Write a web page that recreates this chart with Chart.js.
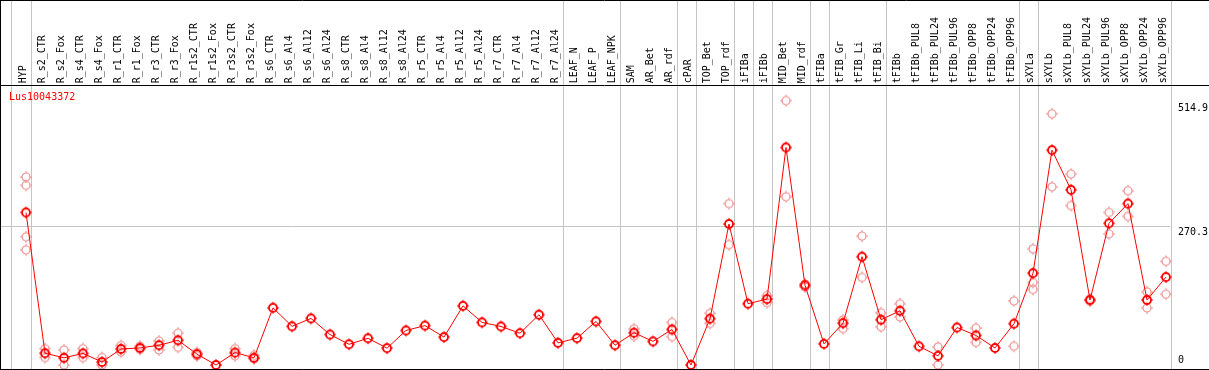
<!DOCTYPE html>
<html>
<head>
<meta charset="utf-8">
<script src="https://cdn.jsdelivr.net/npm/chart.js@4.4.1/dist/chart.umd.min.js"></script>
<style>
  body { margin: 0; background: #fff; }
  #wrap { width: 1209px; height: 370px; position: relative; }
</style>
</head>
<body>
<div id="wrap"><canvas id="grafico"></canvas></div>
<script>
// rótulos das amostras
const amostras = ["HYP","R_s2_CTR","R_s2_Fox","R_s4_CTR","R_s4_Fox","R_r1_CTR","R_r1_Fox","R_r3_CTR","R_r3_Fox",
  "R_r1s2_CTR","R_r1s2_Fox","R_r3s2_CTR","R_r3s2_Fox","R_s6_CTR","R_s6_Al4","R_s6_Al12","R_s6_Al24",
  "R_s8_CTR","R_s8_Al4","R_s8_Al12","R_s8_Al24","R_r5_CTR","R_r5_Al4","R_r5_Al12","R_r5_Al24",
  "R_r7_CTR","R_r7_Al4","R_r7_Al12","R_r7_Al24","LEAF_N","LEAF_P","LEAF_NPK","SAM","AR_Bet","AR_rdf",
  "cPAR","TOP_Bet","TOP_rdf","iFIBa","iFIBb","MID_Bet","MID_rdf","tFIBa","tFIB_Gr","tFIB_Li","tFIB_Bi",
  "tFIBb","tFIBb_PUL8","tFIBb_PUL24","tFIBb_PUL96","tFIBb_OPP8","tFIBb_OPP24","tFIBb_OPP96","sXYLa",
  "sXYLb","sXYLb_PUL8","sXYLb_PUL24","sXYLb_PUL96","sXYLb_OPP8","sXYLb_OPP24","sXYLb_OPP96"];

// tamanho de cada grupo (linhas cinzas verticais)
const grupos = [1, 28, 3, 3, 1, 2, 1, 1, 2, 1, 3, 7, 1, 7];

// média por amostra
const media = [297.1, 23.0, 14.0, 22.6, 5.8, 31.2, 33.2, 38.5, 48.1, 21.1, 0, 24.2, 14.0,
  111.4, 75.3, 90.7, 59.4, 40.3, 52.0, 32.8, 67.3, 76.7, 54.3, 115.2, 83.0, 75.0, 61.9, 98.0, 43.1,
  52.3, 84.9, 38.5, 62.9, 46.0, 69.2, 0, 90.3, 274.7, 119.4, 128.4, 423.7, 155.3, 41.2, 81.5, 210.9,
  88.2, 105.6, 36.4, 17.8, 73.0, 57.5, 33.2, 80.5, 178.9, 418.5, 341.2, 126.5, 276.0, 314.4, 126.7, 171.2];

// réplicas (null = sem réplica visível)
const rep1 = [366.1, 31.8, 29.3, 31.8, 14.6, 38.0, 37.0, 46.6, 61.9, 24.5, null, 31.8, 18.8,
  null, null, null, null, null, null, null, null, null, null, null, null, null, null, null, null,
  null, null, null, 70.5, null, 83.0, null, 100.8, 314.4, null, 135.3, 514.9, 157.8, null, 87.8, 251.1,
  101.6, 119.4, null, 35.1, null, 71.9, null, 124.8, 226.2, 489.4, 371.9, 129.0, 297.1, 339.3, 142.4, 201.9];
const rep2 = [350.0, 14.6, 0, 14.6, 0, 25.5, 30.3, 29.3, 34.5, 17.8, null, 17.8, 12.1,
  null, null, null, null, null, null, null, null, null, null, null, null, null, null, null, null,
  null, null, null, 56.2, null, 55.2, null, 81.1, 234.4, null, 121.3, 327.8, 152.0, null, 70.9, 170.6,
  74.4, 93.5, null, 0, null, 44.1, null, 36.6, 160.6, 347.0, 310.6, 124.2, 255.5, 289.5, 111.2, 138.0];
const rep3 = [249.8, null, null, null, null, null, null, null, null, null, null, null, null,
  null, null, null, null, null, null, null, null, null, null, null, null, null, null, null, null,
  null, null, null, null, null, null, null, null, null, null, null, null, null, null, null, null,
  null, null, null, null, null, null, null, null, 147.2, null, null, null, null, null, null, null];
const rep4 = [224.3, null, null, null, null, null, null, null, null, null, null, null, null,
  null, null, null, null, null, null, null, null, null, null, null, null, null, null, null, null,
  null, null, null, null, null, null, null, null, null, null, null, null, null, null, null, null,
  null, null, null, null, null, null, null, null, null, null, null, null, null, null, null, null];

const nomeGene = "Lus10043372";
const ticksY = [514.9, 270.3, 0];

// marcador: círculo com pequenos traços nas 4 direções
function marcador(cor, espessura) {
  const c = document.createElement("canvas");
  c.width = 14; c.height = 14;
  const g = c.getContext("2d");
  g.strokeStyle = cor;
  g.lineWidth = espessura;
  g.beginPath();
  g.arc(7, 7, 4, 0, Math.PI * 2);
  g.stroke();
  g.lineWidth = 1;
  g.beginPath();
  g.moveTo(7, 1); g.lineTo(7, 3);
  g.moveTo(7, 11); g.lineTo(7, 13);
  g.moveTo(1, 7); g.lineTo(3, 7);
  g.moveTo(11, 7); g.lineTo(13, 7);
  g.stroke();
  return c;
}
const pontoMedia = marcador("#ff0000", 1.8);
const pontoRep = marcador("#ee8f8f", 1.2);

const fonte = "'DejaVu Sans Mono', monospace";

const moldura = {
  id: "moldura",
  beforeDatasetsDraw(chart) {
    const ctx = chart.ctx, x = chart.scales.x, y = chart.scales.y;
    const passo = x.getPixelForValue(1) - x.getPixelForValue(0);
    ctx.save();
    ctx.strokeStyle = "#c4c4c4";
    ctx.lineWidth = 1;
    // linha horizontal em 270.3
    const yg = Math.round(y.getPixelForValue(ticksY[1])) + 0.5;
    ctx.beginPath();
    ctx.moveTo(0, yg); ctx.lineTo(1170, yg);
    // separadores dos grupos
    let xs = [x.getPixelForValue(0) - 0.8 * passo];
    let fim = -1;
    grupos.forEach(n => { fim += n; xs.push(x.getPixelForValue(fim) + 0.25 * passo); });
    xs.forEach(v => { const px = Math.round(v) + 0.5; ctx.moveTo(px, 0); ctx.lineTo(px, 369); });
    ctx.stroke();
    ctx.restore();
  },
  afterDraw(chart) {
    const ctx = chart.ctx, y = chart.scales.y;
    ctx.save();
    ctx.strokeStyle = "#000";
    ctx.lineWidth = 1;
    ctx.beginPath();
    ctx.moveTo(0, 0.5); ctx.lineTo(1209, 0.5);
    ctx.moveTo(0, 85.5); ctx.lineTo(1209, 85.5);
    ctx.moveTo(0, 369.5); ctx.lineTo(1209, 369.5);
    ctx.moveTo(0.5, 0); ctx.lineTo(0.5, 370);
    ctx.stroke();
    ctx.font = "10px " + fonte;
    ctx.textBaseline = "middle";
    ctx.fillStyle = "#ff0000";
    ctx.fillText(nomeGene, 9, 97.5);
    ctx.fillStyle = "#000";
    const desloc = [8, 6, -5];
    ticksY.forEach((t, i) => {
      ctx.fillText(String(t), 1178, y.getPixelForValue(t) + desloc[i]);
    });
    ctx.restore();
  }
};

const config = {
  type: "line",
  data: {
    labels: amostras,
    datasets: [
      { data: media, borderColor: "#ff0000", borderWidth: 1, pointStyle: pontoMedia, tension: 0, clip: false },
      { data: rep1, showLine: false, pointStyle: pontoRep, clip: false },
      { data: rep2, showLine: false, pointStyle: pontoRep, clip: false },
      { data: rep3, showLine: false, pointStyle: pontoRep, clip: false },
      { data: rep4, showLine: false, pointStyle: pontoRep, clip: false }
    ]
  },
  options: {
    responsive: true,
    maintainAspectRatio: false,
    animation: false,
    events: [],
    layout: { padding: { left: 26, right: 43, top: 0, bottom: 0.7 } },
    plugins: { legend: { display: false }, tooltip: { enabled: false } },
    scales: {
      x: {
        position: "top",
        grid: { display: false },
        border: { display: false },
        afterFit: s => { s.height = 98.3; },
        ticks: {
          autoSkip: false, minRotation: 90, maxRotation: 90,
          padding: 7, labelOffset: 9, color: "#000",
          font: { family: fonte, size: 10 }
        }
      },
      y: { display: false, min: 0, max: 519.5 }
    }
  },
  plugins: [moldura]
};

new Chart(document.getElementById("grafico"), config);
</script>
</body>
</html>
